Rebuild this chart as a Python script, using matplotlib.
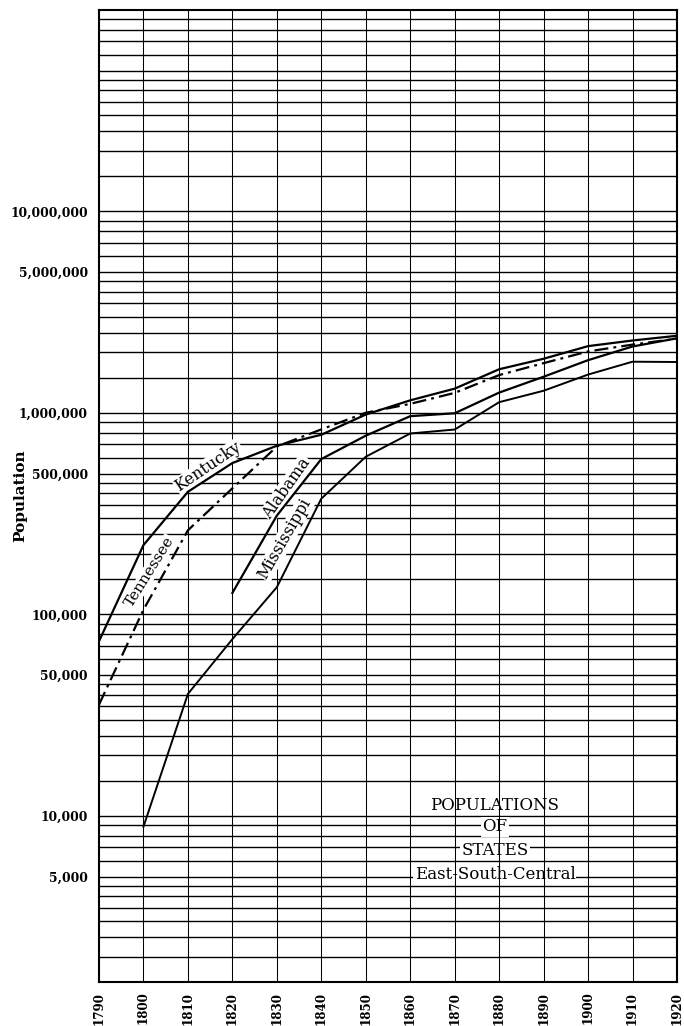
import matplotlib
matplotlib.use("Agg")
import matplotlib.pyplot as plt
import numpy as np

# Census years and state populations (East South Central division)
years = [1790, 1800, 1810, 1820, 1830, 1840, 1850, 1860, 1870, 1880, 1890, 1900, 1910, 1920]

kentucky = [73677, 220955, 406511, 564317, 687917, 779828, 982405, 1155684,
            1321011, 1648690, 1858635, 2147174, 2289905, 2416630]
tennessee = [35691, 105602, 261727, 422823, 681904, 829210, 1002717, 1109801,
             1258520, 1542359, 1767518, 2020616, 2184789, 2337885]
alabama_years = years[3:]
alabama = [127901, 309527, 590756, 771623, 964201, 996992, 1262505, 1513401,
           1828697, 2138093, 2348174]
mississippi_years = years[1:]
mississippi = [8850, 40352, 75448, 136621, 375651, 606526, 791305, 827922,
               1131597, 1289600, 1551270, 1797114, 1790618]

ytick_values = [5000, 10000, 50000, 100000, 500000, 1000000, 5000000, 10000000]
ytick_labels = ["5,000", "10,000", "50,000", "100,000", "500,000",
                "1,000,000", "5,000,000", "10,000,000"]
xtick_labels = [str(y) for y in years]

title_lines = ["POPULATIONS", "OF", "STATES", "East-South-Central"]

Y_MIN, Y_MAX = 1500, 1e8
SERIF = "DejaVu Serif"

fig = plt.figure(figsize=(6.84, 10.26), dpi=100)
ax = fig.add_axes([99 / 684, 1 - 982 / 1026, 578 / 684, 972 / 1026])
ax.set_yscale("log")
ax.set_xlim(years[0], years[-1])
ax.set_ylim(Y_MIN, Y_MAX)

# Ruled paper: horizontal rules at 1.5, 2, 2.5 ... 5, 6, 7, 8, 9 of each decade
steps = [1.5, 2, 2.5, 3, 3.5, 4, 4.5, 5, 6, 7, 8, 9, 10]
rules = [m * 10 ** k for k in range(3, 8) for m in steps]
rules = [r for r in rules if Y_MIN < r < Y_MAX]
ax.hlines(rules, years[0], years[-1], colors="black", lw=1.0, zorder=1)
ax.vlines(years[1:-1], Y_MIN, Y_MAX, colors="black", lw=0.75, zorder=3)

# State curves
ax.plot(years, kentucky, color="black", lw=1.6, zorder=5, solid_joinstyle="round")
ax.plot(years, tennessee, color="black", lw=1.6, zorder=5,
        linestyle=(0, (6.3, 2.3, 1.3, 2.3)))
ax.plot(alabama_years, alabama, color="black", lw=1.6, zorder=5)
ax.plot(mississippi_years, mississippi, color="black", lw=1.4, zorder=5)

# Curve labels written along the lines
label_box = dict(facecolor="white", edgecolor="none", pad=0.6)
curve_labels = [
    ("Kentucky", 1814.6, 540000, 34, 11.5),
    ("Tennessee", 1801.4, 163000, 58, 11),
    ("Alabama", 1832.3, 423600, 55, 11.5),
    ("Mississippi", 1831.8, 238800, 60, 11.5),
]
for text, xx, yy, rot, size in curve_labels:
    ax.text(xx, yy, text, rotation=rot, ha="center", va="center",
            rotation_mode="anchor", family=SERIF, fontsize=size,
            bbox=label_box, zorder=4)

# Chart title block
title_y = [0.182, 0.1595, 0.1358, 0.1111]
for line, ty in zip(title_lines, title_y):
    ax.text(0.685, ty, line, transform=ax.transAxes, ha="center", va="center",
            family=SERIF, fontsize=12,
            bbox=dict(facecolor="white", edgecolor="none", pad=0.8), zorder=2)

# Axes, ticks and labels
ax.yaxis.set_minor_locator(matplotlib.ticker.NullLocator())
ax.set_yticks(ytick_values, labels=ytick_labels)
ax.set_xticks(years, labels=xtick_labels, rotation=90)
ax.tick_params(axis="y", length=0, pad=8)
ax.tick_params(axis="x", length=0, pad=7)
for lab in ax.get_yticklabels():
    lab.set_family(SERIF)
    lab.set_fontweight("bold")
    lab.set_fontsize(8.9)
for lab in ax.get_xticklabels():
    lab.set_family(SERIF)
    lab.set_fontweight("bold")
    lab.set_fontsize(8.6)

ax.set_ylabel("Population", family=SERIF, fontweight="bold", fontsize=11)
ax.yaxis.set_label_coords(-0.124, 0.5)

for sp in ax.spines.values():
    sp.set_linewidth(1.5)
    sp.set_zorder(6)

fig.savefig("out.png", dpi=100, facecolor="white")
